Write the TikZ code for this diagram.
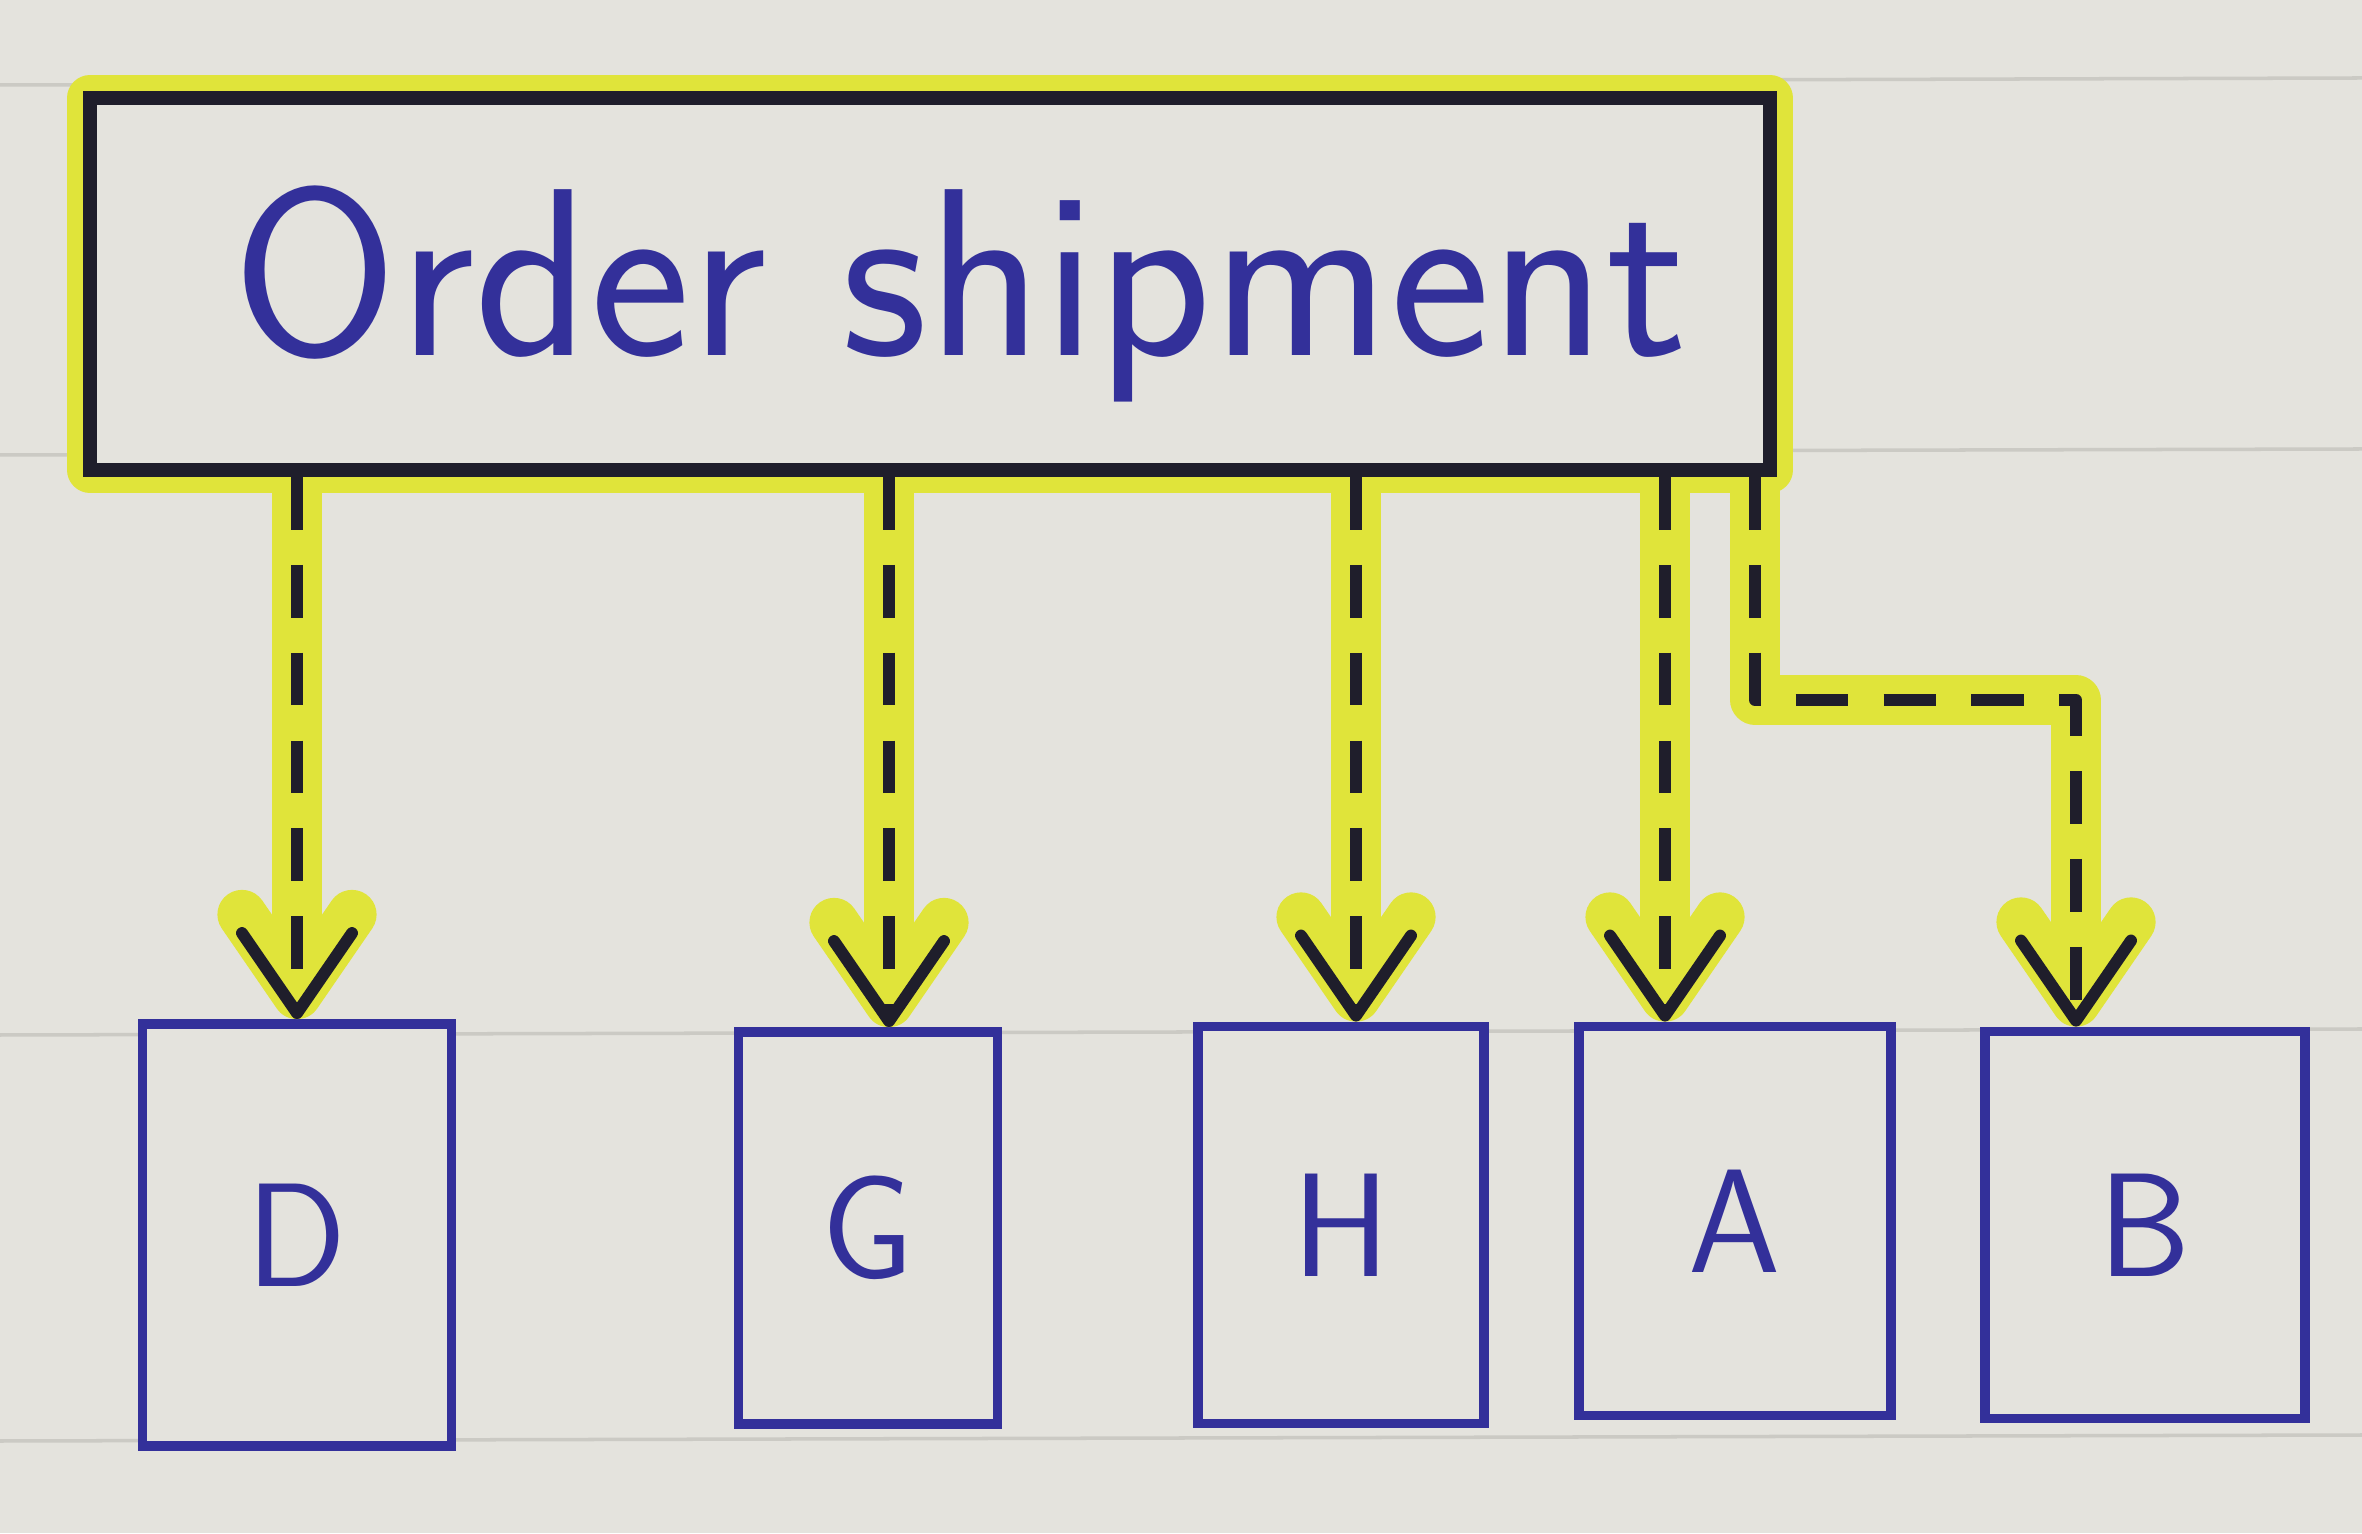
\documentclass[tikz,border=0pt]{standalone}
\usepackage{tikz}
\usepackage{xcolor}
\usetikzlibrary{arrows.meta,positioning,calc}
\definecolor{Paper}{HTML}{E4E3DD}
\definecolor{Rule}{HTML}{CBCAC4}
\definecolor{Ink}{HTML}{33309A}
\definecolor{Marker}{HTML}{1F1E2B}
\definecolor{Glow}{HTML}{E0E43A}

\begin{document}
\begin{tikzpicture}[
  hlbox/.style={draw=Marker,line width=4pt,fill=Paper,minimum width=16.8cm,minimum height=3.72cm,
    preaction={draw=Glow,line width=13pt,line join=round}},
  leaf/.style={draw=Ink,line width=2.8pt,fill=Paper,font=\sffamily\fontsize{42}{46}\selectfont,text=Ink},
  arrow/.style={draw=Marker,line width=3.4pt,dash pattern=on 15pt off 10pt,line join=round,
    -{Straight Barb[length=8mm,width=11mm,round]},
    preaction={draw=Glow,line width=14pt,solid,line join=round,-{Straight Barb[length=8mm,width=11mm,round]}}},
  rule/.style={draw=Rule,line width=1pt}
]
\useasboundingbox[fill=Paper] (0,0) rectangle (23.62,15.33);
\draw[rule] (0,14.48) -- (23.62,14.55);
\draw[rule] (0,10.78) -- (23.62,10.84);
\draw[rule] (0,4.98) -- (23.62,5.04);
\draw[rule] (0,0.92) -- (23.62,0.98);
\node[hlbox] (order) at (9.30,12.49) {};
\node[text=Ink,font=\sffamily\fontsize{68}{76}\selectfont] (title) at (9.60,12.39) {Order shipment};
\node[leaf,minimum width=3.09cm,minimum height=4.22cm] (d) at (2.97,2.98) {D};
\node[leaf,minimum width=2.59cm,minimum height=3.92cm] (g) at (8.68,3.05) {G};
\node[leaf,minimum width=2.86cm,minimum height=3.97cm] (h) at (13.41,3.08) {H};
\node[leaf,minimum width=3.12cm,minimum height=3.89cm] (a) at (17.35,3.12) {A};
\node[leaf,minimum width=3.20cm,minimum height=3.87cm] (b) at (21.45,3.08) {B};
\coordinate (bend) at (17.55,8.33);
\draw[arrow] (d.north |- order.south) -- (d.north);
\draw[arrow] ([xshift=0.21cm]g.north |- order.south) -- ([xshift=0.21cm]g.north);
\draw[arrow] ([xshift=0.15cm]h.north |- order.south) -- ([xshift=0.15cm]h.north);
\draw[arrow] ([xshift=-0.70cm]a.north |- order.south) -- ([xshift=-0.70cm]a.north);
\draw[arrow] (bend |- order.south) -- (bend) -| ([xshift=-0.69cm]b.north);
\end{tikzpicture}
\end{document}
